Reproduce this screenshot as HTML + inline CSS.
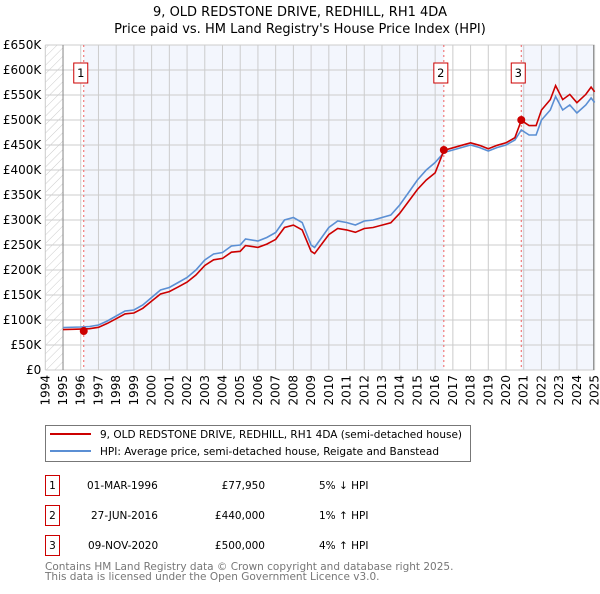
<!DOCTYPE html>
<html><head><meta charset="utf-8"><style>
body{margin:0;background:#fff;font-family:"DejaVu Sans","Liberation Sans",sans-serif;}
svg text{font-family:"DejaVu Sans","Liberation Sans",sans-serif;}
</style></head><body>
<svg id="c" width="600" height="590" viewBox="0 0 600 590" xmlns="http://www.w3.org/2000/svg">
<defs><pattern id="hatch" width="6" height="6" patternUnits="userSpaceOnUse" patternTransform="rotate(45)"><line x1="0" y1="0" x2="0" y2="6" stroke="#ccc" stroke-width="1"/></pattern></defs>
<text x="300" y="16" text-anchor="middle" font-size="13">9, OLD REDSTONE DRIVE, REDHILL, RH1 4DA</text>
<text x="300" y="33" text-anchor="middle" font-size="13">Price paid vs. HM Land Registry's House Price Index (HPI)</text>
<g id="plot"></g>
<g>
<rect x="45.5" y="425.5" width="425" height="36" fill="#fff" stroke="#777"/>
<line x1="50" y1="434" x2="91" y2="434" stroke="#cc0000" stroke-width="2"/>
<text x="100" y="438" font-size="10.5">9, OLD REDSTONE DRIVE, REDHILL, RH1 4DA (semi-detached house)</text>
<line x1="50" y1="451" x2="91" y2="451" stroke="#5b8fd4" stroke-width="2"/>
<text x="100" y="455" font-size="10.5">HPI: Average price, semi-detached house, Reigate and Banstead</text>
</g>
<g font-size="10.5">
<rect x="45.5" y="475.5" width="14" height="20" fill="#fff" stroke="#cc0000"/><text x="52.5" y="489" text-anchor="middle">1</text>
<text x="87" y="489">01-MAR-1996</text><text x="265" y="489" text-anchor="end">£77,950</text><text x="319" y="489">5% ↓ HPI</text>
<rect x="45.5" y="505.5" width="14" height="20" fill="#fff" stroke="#cc0000"/><text x="52.5" y="519" text-anchor="middle">2</text>
<text x="91" y="519">27-JUN-2016</text><text x="265" y="519" text-anchor="end">£440,000</text><text x="319" y="519">1% ↑ HPI</text>
<rect x="45.5" y="535.5" width="14" height="20" fill="#fff" stroke="#cc0000"/><text x="52.5" y="549" text-anchor="middle">3</text>
<text x="88" y="549">09-NOV-2020</text><text x="265" y="549" text-anchor="end">£500,000</text><text x="319" y="549">4% ↑ HPI</text>
</g>
<text x="45" y="570" font-size="10.5" fill="#777">Contains HM Land Registry data © Crown copyright and database right 2025.</text>
<text x="45" y="580" font-size="10.5" fill="#777">This data is licensed under the Open Government Licence v3.0.</text>
</svg>
<script>
const yTicks=[0,50,100,150,200,250,300,350,400,450,500,550,600,650];
const yTickLabels=["£0","£50K","£100K","£150K","£200K","£250K","£300K","£350K","£400K","£450K","£500K","£550K","£600K","£650K"];
const years=[1994,1995,1996,1997,1998,1999,2000,2001,2002,2003,2004,2005,2006,2007,2008,2009,2010,2011,2012,2013,2014,2015,2016,2017,2018,2019,2020,2021,2022,2023,2024,2025];
const hpiT=[1995,1996,1996.5,1997,1997.5,1998,1998.5,1999,1999.5,2000,2000.5,2001,2001.5,2002,2002.5,2003,2003.5,2004,2004.5,2005,2005.3,2006,2006.5,2007,2007.5,2008,2008.5,2009,2009.2,2010,2010.5,2011,2011.5,2012,2012.5,2013,2013.5,2014,2014.5,2015,2015.5,2016,2016.5,2017,2017.5,2018,2018.5,2019,2019.5,2020,2020.5,2020.86,2021.3,2021.7,2022,2022.5,2022.8,2023.2,2023.6,2024,2024.5,2024.8,2025];
const hpiV=[85,86,87,90,98,108,118,120,130,145,160,165,175,185,200,220,232,235,248,250,262,258,265,275,300,305,295,250,245,285,298,295,290,298,300,305,310,330,355,380,400,415,435,440,445,450,445,438,445,450,460,480,470,470,500,520,547,520,530,514,530,544,535];
const saleT=[1996.17,2016.49,2020.86];
const saleV=[77.95,440,500];
const saleRatio=[0.95,1.01,1.04];
const saleLabels=["1","2","3"];
const X=t=>45.3+(t-1994)*17.72, Y=v=>370-v*0.5;
const ns="http://www.w3.org/2000/svg", g=document.getElementById('plot');
function el(tag,a,p){const e=document.createElementNS(ns,tag);for(const k in a)e.setAttribute(k,a[k]);(p||g).appendChild(e);return e;}
const x0=X(1994),x1=X(2025),y0=Y(650),y1=Y(0);
let r=el('rect',{x:x0,y:y0,width:X(1995)-x0,height:y1-y0,fill:'url(#hatch)'});


r=el('rect',{x:X(saleT[0]),y:y0,width:X(saleT[1])-X(saleT[0]),height:y1-y0,fill:'#f3f6fd'});


r=el('rect',{x:X(saleT[2]),y:y0,width:x1-X(saleT[2]),height:y1-y0,fill:'#f3f6fd'});


years.forEach(y=>{el('line',{x1:X(y),x2:X(y),y1:y0,y2:y1,stroke:'#ccc'});
const t=el('text',{x:0,y:0,'font-size':12,transform:`translate(${X(y)+4},${y1+5}) rotate(-90)`,'text-anchor':'end'});t.textContent=y;

});
yTicks.forEach((v,i)=>{el('line',{x1:x0,x2:x1,y1:Y(v),y2:Y(v),stroke:'#ccc'});
const t=el('text',{x:x0-4,y:Y(v)+4,'font-size':12,'text-anchor':'end'});t.textContent=yTickLabels[i];

});
el('line',{x1:X(1995),x2:X(1995),y1:y0,y2:y1,stroke:'#888'});
el('line',{x1:x1-1,x2:x1-1,y1:y0,y2:y1,stroke:'#888'});
saleT.forEach((t,i)=>{const l=el('line',{x1:X(t),x2:X(t),y1:y0,y2:y1,stroke:'#f06060','stroke-dasharray':'2,3'});


const b=el('rect',{x:X(t)-10,y:63,width:14,height:20,fill:'#fff',stroke:'#cc0000'});


const tx=el('text',{x:X(t)-3,y:77,'font-size':11.5,'text-anchor':'middle'});tx.textContent=saleLabels[i];});
let hp=hpiT.map((t,i)=>X(t).toFixed(1)+','+Y(hpiV[i]).toFixed(1)).join(' ');
let pl=el('polyline',{points:hp,fill:'none',stroke:'#5b8fd4','stroke-width':1.6});


const redPts=hpiT.map((t,i)=>{let k=0;for(let j=0;j<saleT.length;j++)if(t>=saleT[j])k=j;return X(t).toFixed(1)+','+Y(hpiV[i]*saleRatio[k]).toFixed(1);});
pl=el('polyline',{points:redPts.join(' '),fill:'none',stroke:'#cc0000','stroke-width':1.6});


saleT.forEach((t,i)=>{const c=el('circle',{cx:X(t),cy:Y(saleV[i]),r:4,fill:'#cc0000'});

});
</script>
</body></html>
